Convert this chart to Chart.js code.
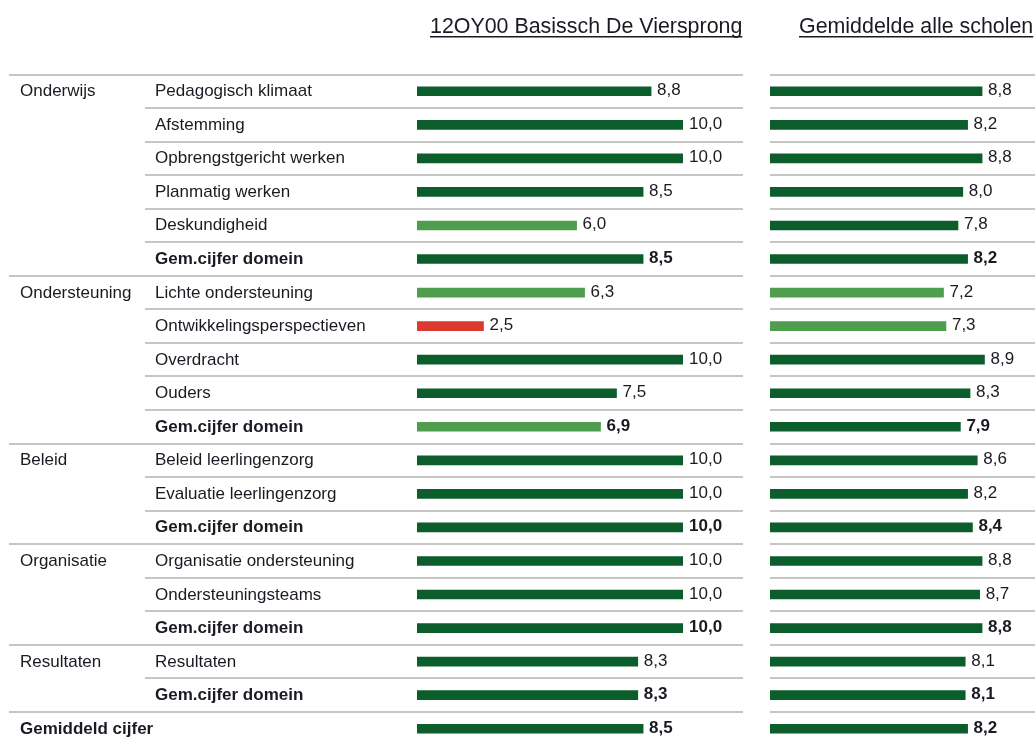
<!DOCTYPE html>
<html>
<head>
<meta charset="utf-8">
<script src="https://cdn.jsdelivr.net/npm/chart.js@4/dist/chart.umd.min.js"></script>
<style>
  body { margin: 0; background: #fff; overflow: hidden; }
  .box { position: absolute; top: 0; height: 750px; }
  #schoolBox { left: 0; width: 760px; }
  #allBox { left: 760px; width: 275px; }
</style>
</head>
<body>
<div class="box" id="schoolBox"><canvas id="schoolChart"></canvas></div>
<div class="box" id="allBox"><canvas id="allChart"></canvas></div>
<script>
const domainNames = ['Onderwijs', 'Ondersteuning', 'Beleid', 'Organisatie', 'Resultaten', 'Gemiddeld cijfer'];
const domainSizes = [6, 5, 3, 3, 2, 1];
const itemLabels = [
  'Pedagogisch klimaat', 'Afstemming', 'Opbrengstgericht werken', 'Planmatig werken', 'Deskundigheid', 'Gem.cijfer domein',
  'Lichte ondersteuning', 'Ontwikkelingsperspectieven', 'Overdracht', 'Ouders', 'Gem.cijfer domein',
  'Beleid leerlingenzorg', 'Evaluatie leerlingenzorg', 'Gem.cijfer domein',
  'Organisatie ondersteuning', 'Ondersteuningsteams', 'Gem.cijfer domein',
  'Resultaten', 'Gem.cijfer domein',
  ''
];
const schoolScores = [8.8, 10.0, 10.0, 8.5, 6.0, 8.5, 6.3, 2.5, 10.0, 7.5, 6.9, 10.0, 10.0, 10.0, 10.0, 10.0, 10.0, 8.3, 8.3, 8.5];
const allScores = [8.8, 8.2, 8.8, 8.0, 7.8, 8.2, 7.2, 7.3, 8.9, 8.3, 7.9, 8.6, 8.2, 8.4, 8.8, 8.7, 8.8, 8.1, 8.1, 8.2];
const titles = ['12OY00 Basissch De Viersprong', 'Gemiddelde alle scholen'];

const FONT = '"Liberation Sans", Arial, sans-serif';
const TEXT = '#1a1a22';

// first row of every domain
const domainStarts = [];
domainSizes.reduce((acc, n) => { domainStarts.push(acc); return acc + n; }, 0);

function isBold(i) {
  return itemLabels[i] === 'Gem.cijfer domein' || i === itemLabels.length - 1;
}

function scoreColor(v) {
  if (v >= 7.5) return '#0b5e2b';
  if (v >= 5.5) return '#4e9e4e';
  return '#dc3a2e';
}

function fmt(v) {
  return v.toFixed(1).replace('.', ',');
}

const tablePlugin = {
  id: 'table',
  beforeDatasetsDraw(chart, args, opts) {
    const ctx = chart.ctx;
    const y = chart.scales.y;
    const band = y.getPixelForValue(1) - y.getPixelForValue(0);
    ctx.save();
    ctx.strokeStyle = '#c6c6c6';
    ctx.lineWidth = 2;
    for (let i = 0; i < itemLabels.length; i++) {
      const ly = Math.round(y.getPixelForValue(i) - band / 2);
      const x0 = domainStarts.includes(i) ? opts.domainLineFrom : opts.lineFrom;
      ctx.beginPath();
      ctx.moveTo(x0, ly);
      ctx.lineTo(opts.lineTo, ly);
      ctx.stroke();
    }
    ctx.restore();
  },
  afterDatasetsDraw(chart, args, opts) {
    const ctx = chart.ctx;
    const y = chart.scales.y;
    const bars = chart.getDatasetMeta(0).data;
    const values = chart.data.datasets[0].data;
    ctx.save();
    ctx.fillStyle = TEXT;

    // header
    ctx.font = '21.4px ' + FONT;
    ctx.textAlign = 'left';
    ctx.textBaseline = 'alphabetic';
    ctx.fillText(opts.title, opts.titleX, 33);
    const w = ctx.measureText(opts.title).width;
    ctx.fillRect(opts.titleX, 36, w, 1.5);

    // row labels
    if (opts.showLabels) {
      domainNames.forEach((name, d) => {
        const row = domainStarts[d];
        ctx.font = (row === itemLabels.length - 1 ? 'bold ' : '') + '17px ' + FONT;
        ctx.fillText(name, 20, y.getPixelForValue(row) + 5);
      });
      itemLabels.forEach((label, i) => {
        ctx.font = (isBold(i) ? 'bold ' : '') + '17px ' + FONT;
        ctx.fillText(label, 155, y.getPixelForValue(i) + 5);
      });
    }

    // value labels
    bars.forEach((bar, i) => {
      ctx.font = (isBold(i) ? 'bold ' : '') + '17px ' + FONT;
      ctx.fillText(fmt(values[i]), bar.x + 6, bar.y + 4);
    });
    ctx.restore();
  }
};

function makeChart(id, values, table, padding) {
  return new Chart(document.getElementById(id), {
    type: 'bar',
    data: {
      labels: itemLabels,
      datasets: [{
        data: values,
        backgroundColor: values.map(scoreColor),
        barThickness: 9,
        borderWidth: 0
      }]
    },
    options: {
      indexAxis: 'y',
      responsive: true,
      maintainAspectRatio: false,
      animation: false,
      layout: { padding: padding },
      scales: {
        x: { display: false, min: 0, max: 10 },
        y: { display: false }
      },
      plugins: {
        legend: { display: false },
        tooltip: { enabled: false },
        table: table
      }
    },
    plugins: [tablePlugin]
  });
}

makeChart('schoolChart', schoolScores,
  { title: titles[0], titleX: 430, showLabels: true, lineFrom: 145, domainLineFrom: 9, lineTo: 743 },
  { left: 417, right: 77, top: 74.5, bottom: 4.5 });

makeChart('allChart', allScores,
  { title: titles[1], titleX: 39, showLabels: false, lineFrom: 10, domainLineFrom: 10, lineTo: 275 },
  { left: 10, right: 24, top: 74.5, bottom: 4.5 });
</script>
</body>
</html>
